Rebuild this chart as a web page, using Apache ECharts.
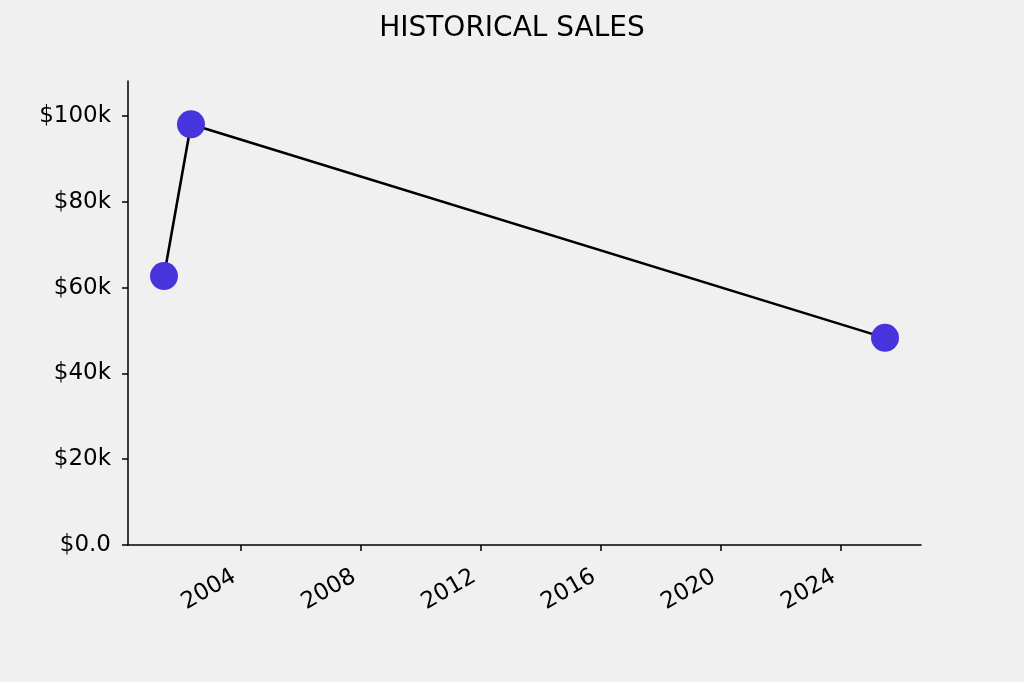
<!DOCTYPE html>
<html>
<head>
<meta charset="utf-8">
<script src="https://cdn.jsdelivr.net/npm/echarts@6/dist/echarts.min.js"></script>
<style>
  html, body { margin: 0; padding: 0; background: #f0f0f0; }
  #chart { width: 1024px; height: 682px; }
</style>
</head>
<body>
<div id="chart"></div>
<script>
// data (x in decimal years)
const saleYears = [2001.43, 2002.33, 2025.47];
const saleValues = [62700, 98100, 48300];
const yearTicks = [2004, 2008, 2012, 2016, 2020, 2024];

const chart = echarts.init(document.getElementById('chart'));

const points = saleYears.map((y, i) => [y, saleValues[i]]);

const fmtMoney = (v) => {
  if (v === 0) return '$0.0';
  return '$' + Math.round(v / 1000) + 'k';
};

const option = {
  backgroundColor: '#f0f0f0',
  animation: false,
  textStyle: { fontFamily: 'DejaVu Sans' },
  title: {
    text: 'HISTORICAL SALES',
    left: 'center',
    top: 10,
    textStyle: { fontFamily: 'DejaVu Sans', fontSize: 28, fontWeight: 'normal', color: '#000' }
  },
  grid: { left: 128, right: 103, top: 81, bottom: 137 },
  xAxis: {
    type: 'value',
    min: 2000.23,
    max: 2026.67,
    splitLine: { show: false },
    axisLine: { lineStyle: { color: '#000', width: 1.5 } },
    axisTick: { show: true, customValues: yearTicks, length: 6, lineStyle: { color: '#000', width: 1.5 } },
    axisLabel: {
      customValues: yearTicks,
      rotate: 30,
      color: '#000',
      fontSize: 23,
      margin: 26,
      padding: [0, 8, 0, 0],
      formatter: (v) => String(Math.round(v))
    }
  },
  yAxis: {
    type: 'value',
    min: 0,
    max: 108200,
    interval: 20000,
    splitLine: { show: false },
    axisLine: { show: true, lineStyle: { color: '#000', width: 1.5 } },
    axisTick: { show: true, length: 6, lineStyle: { color: '#000', width: 1.5 } },
    axisLabel: { color: '#000', fontSize: 23, margin: 17, padding: [8, 0, 0, 0], formatter: fmtMoney, showMaxLabel: false }
  },
  series: [{
    type: 'line',
    data: points,
    symbol: 'circle',
    symbolSize: 28,
    lineStyle: { color: '#000', width: 2.6 },
    itemStyle: { color: '#4834dc', borderWidth: 0 },
    z: 2
  }]
};

chart.setOption(option);
</script>
</body>
</html>
